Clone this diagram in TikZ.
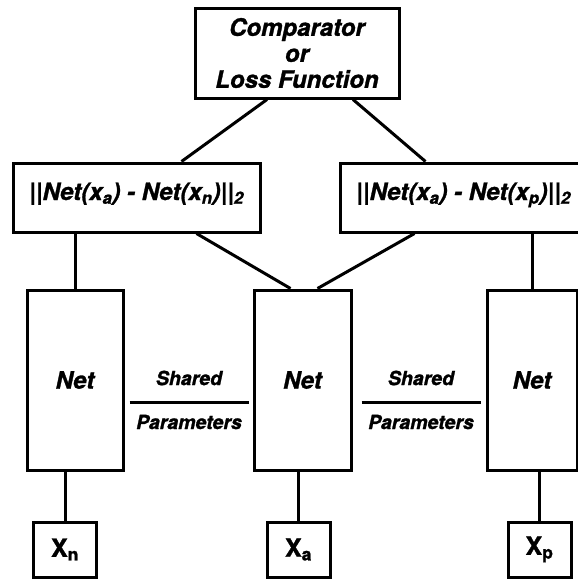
\documentclass[tikz,border=0pt]{standalone}
\usepackage{fontspec}
\setmainfont{TeX Gyre Heros}[BoldFeatures={FakeBold=1.2},BoldItalicFeatures={FakeBold=1.2}]
\begin{document}
\begin{tikzpicture}[x=1pt,y=-1pt,line width=3pt,
    box/.style={draw,rectangle,inner sep=0pt,font=\fontsize{24}{26}\selectfont\bfseries\itshape},
    diffbox/.style={box,minimum width=\diffw,minimum height=\diffh,text height=18pt,text depth=13pt},
    inbox/.style={draw,rectangle,inner sep=0pt,minimum width=63pt,minimum height=55pt,font=\fontsize{25}{27}\selectfont\bfseries},
    sharetxt/.style={font=\fontsize{19.5}{21}\selectfont\bfseries\itshape}]
    \newcommand{\neth}{180pt}
    \newcommand{\diffw}{247pt}
    \newcommand{\diffh}{69pt}
    \useasboundingbox (0,0) rectangle (578,579);
    % loss and distances
    \node[box,minimum width=204pt,minimum height=90pt,align=center] (loss) at (297,53) {Comparator\\or\\Loss Function};
    \node[diffbox] (diffn) at (136.5,197.5) {||Net(x\textsubscript{a}) - Net(x\textsubscript{n})||\textsubscript{2}};
    \node[diffbox] (diffp) at (463.5,197.5) {||Net(x\textsubscript{a}) - Net(x\textsubscript{p})||\textsubscript{2}};
    % the three nets
    \node[box,minimum width=96pt,minimum height=\neth] (netn) at (75,380) {Net};
    \node[box,minimum width=97pt,minimum height=\neth] (neta) at (302.5,380) {Net};
    \node[box,minimum width=90pt,minimum height=\neth] (netp) at (532,380) {Net};
    % inputs
    \node[inbox] (xn) at (65,549.5) {X\textsubscript{n}};
    \node[inbox] (xa) at (298.5,549.5) {X\textsubscript{a}};
    \node[inbox] (xp) at (539.5,549.5) {X\textsubscript{p}};
    \draw ([xshift=-30pt]loss.south) -- ([xshift=45pt]diffn.north);
    \draw ([xshift=56pt]loss.south) -- ([xshift=-38pt]diffp.north);
    \draw ([xshift=60pt]diffn.south) -- ([xshift=-12pt]neta.north);
    \draw ([xshift=-49pt]diffp.south) -- ([xshift=15pt]neta.north);
    \draw (netn.north) -- (netn.north |- diffn.south);
    \draw (netp.north) -- (netp.north |- diffp.south);
    \draw (xn.north) -- (xn.north |- netn.south);
    \draw (xa.north) -- (xa.north |- neta.south);
    \draw (xp.north) -- (xp.north |- netp.south);
    %\draw (neta.west) -- (netn.east);
    \draw ([shift={(5pt,-22pt)}]netn.east) -- ([shift={(-4pt,-22pt)}]neta.west)
        node[sharetxt,midway,yshift=24pt] {Shared} node[sharetxt,midway,yshift=-20pt] {Parameters};
    \draw ([shift={(9pt,-22pt)}]neta.east) -- ([shift={(-5pt,-22pt)}]netp.west)
        node[sharetxt,midway,yshift=24pt] {Shared} node[sharetxt,midway,yshift=-20pt] {Parameters};
\end{tikzpicture}
\end{document}
